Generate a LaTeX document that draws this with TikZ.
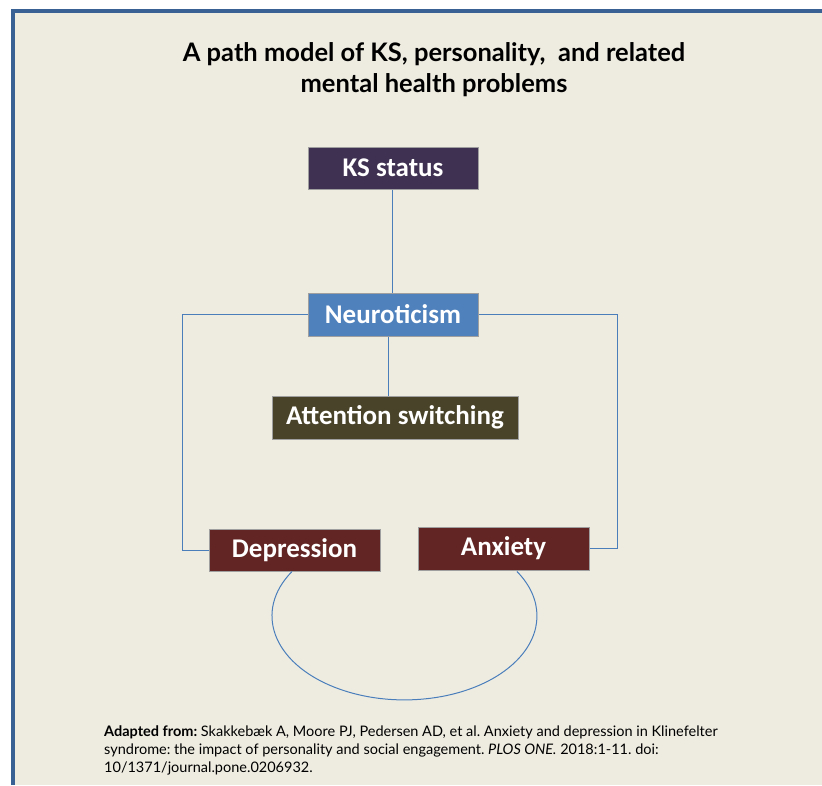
\documentclass[tikz,border=0pt]{standalone}
\usepackage{fontspec}
\setmainfont{Lato}
\newfontfamily\boxfont{Carlito}
\usepackage{tikz}
\definecolor{paper}{HTML}{EEECE1}
\definecolor{frame}{HTML}{3A6193}
\definecolor{ksfill}{HTML}{3F3151}
\definecolor{neufill}{HTML}{4F81BD}
\definecolor{attfill}{HTML}{494429}
\definecolor{moodfill}{HTML}{632523}
\definecolor{linkblue}{HTML}{4A7EBB}
\frenchspacing

\begin{document}
\begin{tikzpicture}[
	x=1pt, y=-1pt,
	varnode/.style={rectangle, draw=gray!75, line width=1pt, text=white, minimum height=42pt, inner sep=0pt, font=\boxfont\bfseries\fontsize{27}{30}\selectfont},
	link/.style={draw=linkblue, line width=1pt},
	]
	\useasboundingbox (0,0) rectangle (822,785);
	%Background
	\fill[paper] (11,9) rectangle (822,785);
	\draw[frame, line width=3.6pt] (12.8,785) -- (12.8,11) -- (822,11);

	%Title
	\node[align=center, font=\bfseries\fontsize{25.5}{31}\selectfont] (title) at (434,69.5) {A path model of KS, personality,~ and related\\mental health problems};

	%Nodes
	\node[varnode, fill=ksfill, minimum width=170pt]   (ks)  at (393,168)   {KS status};
	\node[varnode, fill=neufill, minimum width=170pt, minimum height=43pt]  (neu) at (393,314.5) {Neuroticism};
	\node[varnode, fill=attfill, minimum width=246pt, minimum height=43pt]  (att) at (395,417.5) {Attention switching};
	\node[varnode, fill=moodfill, minimum width=171pt] (dep) at (294.5,550) {Depression};
	\node[varnode, fill=moodfill, minimum width=171pt, minimum height=43pt] (anx) at (503.5,548.5) {Anxiety};

	%Lines
	\draw[link] ([xshift=-1pt]ks.south) -- ([xshift=-1pt]neu.north);
	\draw[link] ([xshift=-4.5pt]neu.south) -- ([xshift=-4.5pt]neu.south |- att.north);
	\draw[link] (neu.west) -- ++(-125,0) |- (dep.west);
	\draw[link] (neu.east) -- ++(139,0) |- (anx.east);
	\draw[link] ([xshift=-2.5pt]dep.south) arc[start angle=211.9, end angle=-31.9, x radius=132.5, y radius=84];

	%Source
	\node[anchor=north west, align=left, inner sep=0pt, font=\fontsize{14.5}{18}\selectfont] (src) at (104,726)
		{\textbf{Adapted from:} Skakkebæk A, Moore PJ, Pedersen AD, et al. Anxiety and depression in Klinefelter\\syndrome: the impact of personality and social engagement. \textit{PLOS ONE.} 2018:1-11. doi:\\10/1371/journal.pone.0206932.};
\end{tikzpicture}
\end{document}
